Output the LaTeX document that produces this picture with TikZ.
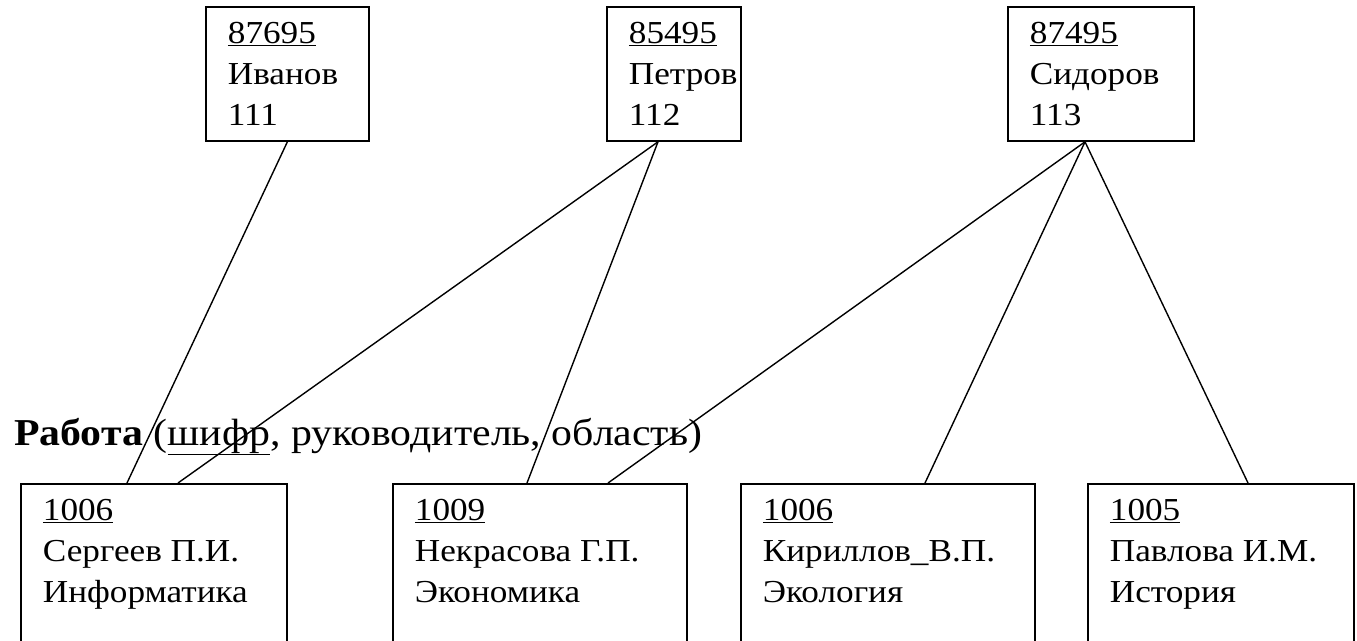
\documentclass[tikz,border=0pt]{standalone}
\usepackage{fontspec}
\setmainfont[FakeStretch=1.1]{Liberation Serif}
\usetikzlibrary{positioning}
\tikzset{
  kart/.style={draw,line width=1.8pt,anchor=north west,inner xsep=22pt,inner ysep=0pt,
    font=\fontsize{32}{41}\selectfont},
  svyaz/.style={line width=1.4pt},
}
\newcommand{\zapis}[5]{\parbox[t][#2][t]{#1}{\vspace*{15.5pt}\underline{#3}\\#4\\#5}}

\begin{document}
\begin{tikzpicture}[x=1pt,y=1pt]
  \useasboundingbox (0,0) rectangle (1357,-640);
  \clip (0,0) rectangle (1357,-640);
  % verkhnii riad
  \node[kart] (iv) at (205,-6) {\zapis{119pt}{134pt}{87695}{Иванов}{111}};
  \node[kart] (pe) at (606,-6) {\zapis{90pt}{134pt}{85495}{Петров}{112}};
  \node[kart] (si) at (1007,-6) {\zapis{142pt}{134pt}{87495}{Сидоров}{113}};
  % nizhnii riad
  \node[kart] (se) at (20,-483) {\zapis{222pt}{200pt}{1006}{Сергеев П.И.}{Информатика}};
  \node[kart] (ne) at (392,-483) {\zapis{250pt}{200pt}{1009}{Некрасова Г.П.}{Экономика}};
  \node[kart] (ki) at (740,-483) {\zapis{250pt}{200pt}{1006}{Кириллов\_В.П.}{Экология}};
  \node[kart] (pa) at (1087,-483) {\zapis{222pt}{200pt}{1005}{Павлова И.М.}{История}};
  \node[anchor=base west,inner sep=0pt,font=\fontsize{38}{44}\selectfont] (rab) at (14,-445)
    {\textbf{Работа} (\underline{шифр}, руководитель, область)};
  % sviazi
  \draw[svyaz] (iv.south) -- ([xshift=107pt]se.north west);
  \draw[svyaz] ([xshift=52pt]pe.south west) -- ([xshift=158pt]se.north west);
  \draw[svyaz] ([xshift=52pt]pe.south west) -- ([xshift=135pt]ne.north west);
  \draw[svyaz] ([xshift=78pt]si.south west) -- ([xshift=216pt]ne.north west);
  \draw[svyaz] ([xshift=78pt]si.south west) -- ([xshift=185pt]ki.north west);
  \draw[svyaz] ([xshift=78pt]si.south west) -- ([xshift=161pt]pa.north west);
\end{tikzpicture}
\end{document}
